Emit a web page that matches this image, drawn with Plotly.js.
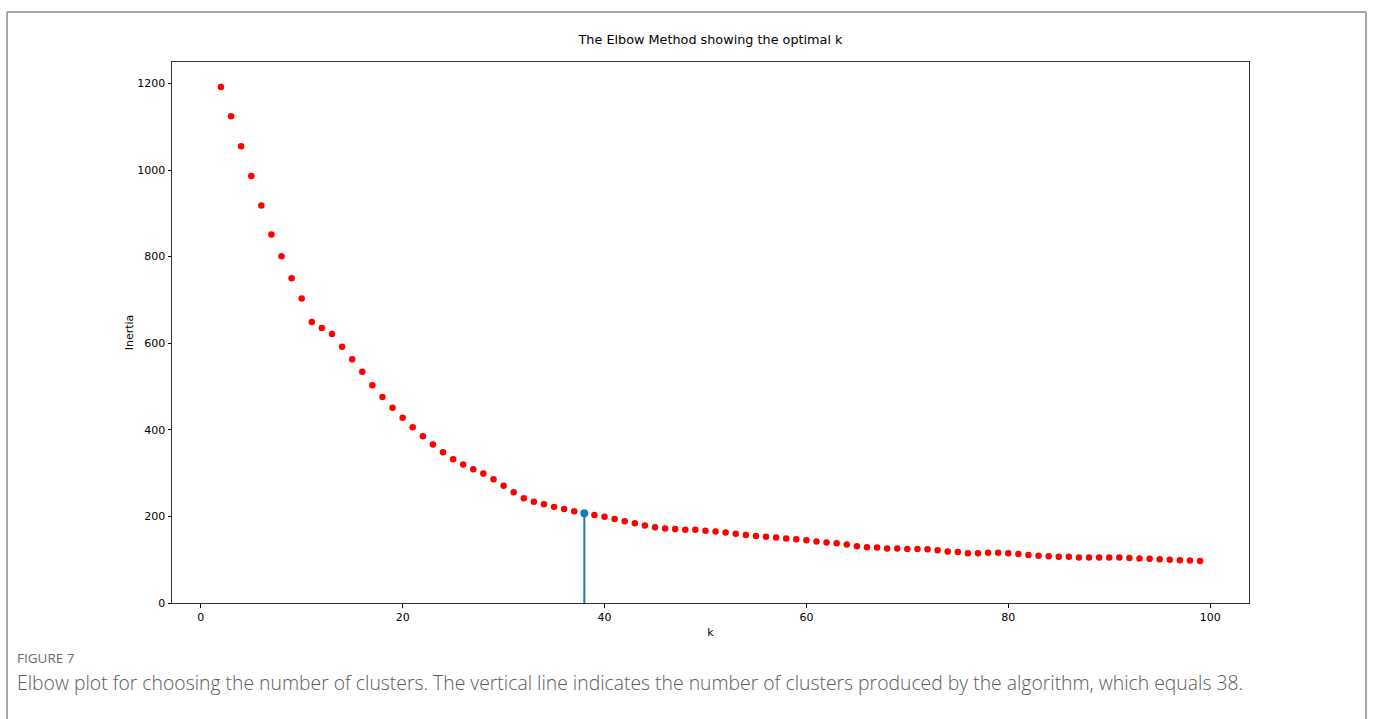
<!DOCTYPE html>
<html>
<head>
<meta charset="utf-8">
<script src="https://cdn.plot.ly/plotly-3.0.1.min.js"></script>
<style>
html,body{margin:0;padding:0;background:#fff;}
#chart{width:1373px;height:719px;}
</style>
</head>
<body>
<div id="chart"></div>
<script>
// k values (number of clusters)
const kValues = [2,3,4,5,6,7,8,9,10,11,12,13,14,15,16,17,18,19,20,21,22,23,24,25,26,27,28,29,30,
  31,32,33,34,35,36,37,38,39,40,41,42,43,44,45,46,47,48,49,50,51,52,53,54,55,56,57,58,59,60,
  61,62,63,64,65,66,67,68,69,70,71,72,73,74,75,76,77,78,79,80,81,82,83,84,85,86,87,88,89,90,
  91,92,93,94,95,96,97,98,99];
// inertia
const inertia = [1192,1124,1055,986,918,851,801,750,703,649,635,621,592,563,534,503,476,451,428,406,385,366,348,332,
  320,309,299,286,271,256,242,234,228,222,217,212,207,203,199,194,189,184,179,175,172,171,169,169,167,
  165,163,160,157,155,153,151,149,147,145,142,140,138,135,131,129,128,126,126,125,125,124,122,119,118,
  115,115,116,116,115,113,111,109,108,107,107,105,105,105,105,105,104,103,102,101,100,99,98,97];
const optimalK = [38];
const optimalInertia = [207];

const titleText = 'The Elbow Method showing the optimal k';
const xTitle = 'k';
const yTitle = 'Inertia';
const xTicks = [0,20,40,60,80,100];
const yTicks = [0,200,400,600,800,1000,1200];
const figLabel = 'FIGURE 7';
const captionText = 'Elbow plot for choosing the number of clusters. The vertical line indicates the number of clusters produced by the algorithm, which equals 38.';

const W = 1373, H = 719;
const L = 172, R = 1249, T = 62, B = 603;
const pw = R - L, ph = B - T;
const px = v => (v - L) / pw;
const py = v => (B - v) / ph;

const traces = [
  {
    x: kValues, y: inertia, type: 'scatter', mode: 'markers',
    marker: {color: '#ff0000', size: 6.5, line: {width: 0}},
    hoverinfo: 'x+y', showlegend: false
  },
  {
    x: [optimalK[0], optimalK[0]], y: [0, optimalInertia[0]], type: 'scatter', mode: 'lines',
    line: {color: '#1f77b4', width: 2}, showlegend: false, hoverinfo: 'skip'
  },
  {
    x: optimalK, y: optimalInertia, type: 'scatter', mode: 'markers',
    marker: {color: '#1f77b4', size: 8}, showlegend: false
  }
];

const tickFont = {family: 'DejaVu Sans', size: 11, color: '#000'};

const layout = {
  width: W, height: H,
  margin: {l: L, r: W - R, t: T, b: H - B, pad: 0},
  paper_bgcolor: '#fff', plot_bgcolor: '#fff',
  showlegend: false,
  title: {text: titleText, font: {family: 'DejaVu Sans', size: 12.8, color: '#000'},
          x: (L + R) / 2 / W, xanchor: 'center', y: 1 - 40 / H, yanchor: 'middle'},
  xaxis: {
    range: [-2.85, 103.85], tickvals: xTicks, ticktext: xTicks.map(String),
    ticks: 'outside', ticklen: 3.5, tickwidth: 1, tickcolor: '#000',
    showgrid: false, zeroline: false, showline: true, linecolor: '#333', linewidth: 1, mirror: true,
    tickfont: tickFont,
    title: {text: xTitle, font: tickFont, standoff: 5}
  },
  yaxis: {
    range: [0, 1249.5], tickvals: yTicks, ticktext: yTicks.map(String),
    ticks: 'outside', ticklen: 3.5, tickwidth: 1, tickcolor: '#000',
    showgrid: false, zeroline: false, showline: true, linecolor: '#333', linewidth: 1, mirror: true,
    tickfont: tickFont,
    title: {text: yTitle, font: tickFont, standoff: 1}
  },
  shapes: [
    {type: 'line', xref: 'paper', yref: 'paper', x0: px(7), x1: px(1366), y0: py(12), y1: py(12),
     line: {color: '#8a8a8a', width: 1.5}},
    {type: 'line', xref: 'paper', yref: 'paper', x0: px(7), x1: px(7), y0: py(12), y1: py(730),
     line: {color: '#8a8a8a', width: 1.5}},
    {type: 'line', xref: 'paper', yref: 'paper', x0: px(1366), x1: px(1366), y0: py(12), y1: py(730),
     line: {color: '#8a8a8a', width: 1.5}}
  ],
  annotations: [
    {text: figLabel, xref: 'paper', yref: 'paper', x: px(15), y: py(658), xanchor: 'left', yanchor: 'middle',
     showarrow: false, font: {family: 'Open Sans', size: 13.5, color: '#6b6b6b'}},
    {text: captionText, xref: 'paper', yref: 'paper', x: px(15), y: py(682), xanchor: 'left', yanchor: 'middle',
     showarrow: false, font: {family: 'Open Sans', size: 19.35, color: '#5a5a5a', weight: 300}}
  ]
};

Plotly.newPlot('chart', traces, layout, {displayModeBar: false, staticPlot: true});
</script>
</body>
</html>
